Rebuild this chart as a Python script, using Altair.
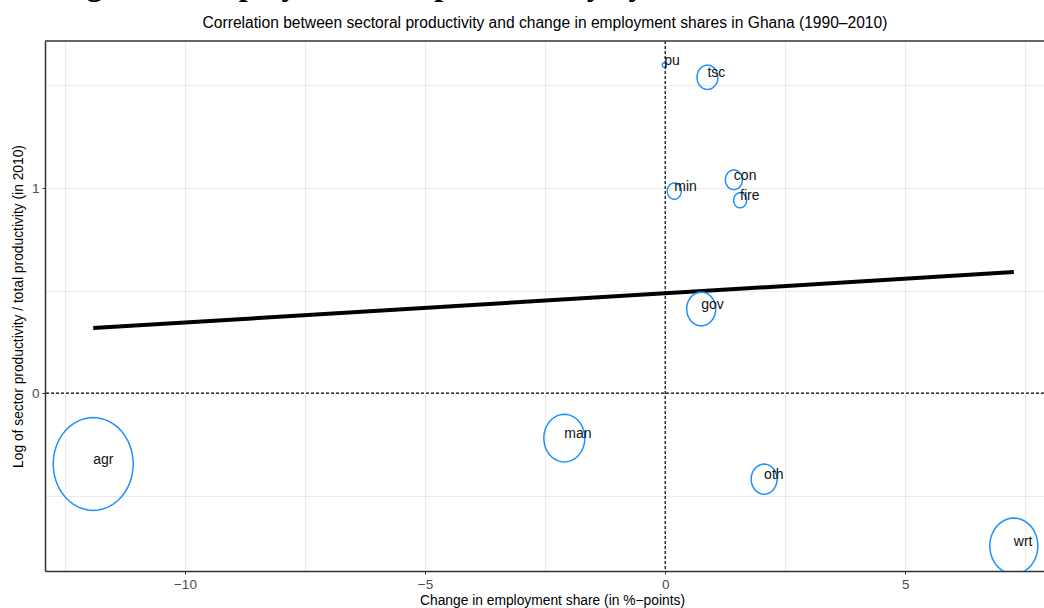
import math
import altair as alt
import pandas as pd

# Sector-level data: change in employment share 1990-2010 (%-points),
# log of relative productivity in 2010 and employment share (bubble size)
sectors = ["agr", "man", "oth", "wrt", "gov", "min", "con", "fire", "tsc", "pu"]
emp_change = [-11.91, -2.10, 2.06, 7.26, 0.75, 0.19, 1.43, 1.56, 0.88, -0.02]
log_rel_prod = [-0.346, -0.22, -0.42, -0.746, 0.41, 0.985, 1.04, 0.94, 1.54, 1.60]
emp_share = [41.0, 10.8, 4.3, 14.8, 5.4, 1.26, 1.85, 1.08, 2.8, 0.1]

# Fitted (weighted) regression line, evaluated at the extreme sectors
fit_x = [-11.91, 7.26]
fit_y = [0.317, 0.59]

# Axis ticks / grid values
x_grid = [-12.5, -10, -7.5, -5, -2.5, 0, 2.5, 5, 7.5]
y_grid = [-0.5, 0, 0.5, 1, 1.5]

heading = "Figure 4: Employment and productivity by sectors in Ghana, 1990\u20132010"
subtitle = ("Correlation between sectoral productivity and change in employment "
            "shares in Ghana (1990\u20132010)")

FONT = "Liberation Sans, Arial, sans-serif"
BLUE = "#1E90FF"
W, H = 999, 530

df = pd.DataFrame({"sector": sectors, "d_emp": emp_change,
                   "lprod": log_rel_prod, "share": emp_share})
fit = pd.DataFrame({"d_emp": fit_x, "lprod": fit_y})

# slightly tall ellipse outline used as the bubble marker
pts = []
for i in range(48):
    a = 2 * math.pi * i / 48
    pts.append(f"{math.cos(a):.4f},{1.16 * math.sin(a):.4f}")
ellipse = "M" + "L".join(pts) + "Z"

x_scale = alt.Scale(domain=[-12.914, 7.888], nice=False, zero=False)
y_scale = alt.Scale(domain=[-0.868, 1.717], nice=False, zero=False)

x_axis = alt.Axis(
    values=x_grid,
    labelExpr="datum.value % 5 === 0 ? datum.label : ''",
    tickOpacity={"condition": {"test": "datum.value % 5 !== 0", "value": 0}, "value": 1},
    title="Change in employment share (in %\u2212points)",
    titleX=507, titleY=29, titleBaseline="middle", titleAnchor="middle",
    labelFlush=False, labelOverlap=False,
)
y_axis = alt.Axis(
    values=y_grid,
    labelExpr="datum.value % 1 === 0 ? format(datum.value, 'd') : ''",
    tickOpacity={"condition": {"test": "datum.value % 1 !== 0", "value": 0}, "value": 1},
    title="Log of sector productivity / total productivity (in 2010)",
    titleX=-27, titleY=265, titleBaseline="middle", titleAnchor="middle",
    labelOverlap=False,
)

base = alt.Chart(df)

bubbles = base.mark_point(
    shape=ellipse, filled=False, stroke=BLUE, strokeWidth=1.5, opacity=1, clip=True
).encode(
    x=alt.X("d_emp:Q", scale=x_scale, axis=x_axis),
    y=alt.Y("lprod:Q", scale=y_scale, axis=y_axis),
    size=alt.Size("share:Q", scale=alt.Scale(domain=[0, 41], range=[0, 6400], zero=True),
                  legend=None),
)

labels = base.mark_text(
    align="left", baseline="middle", dy=-4, font=FONT, fontSize=14, color="#111111"
).encode(x="d_emp:Q", y="lprod:Q", text="sector:N")

fit_line = alt.Chart(fit).mark_line(color="black", strokeWidth=4, strokeCap="butt").encode(
    x="d_emp:Q", y="lprod:Q"
)

zero_ref = pd.DataFrame({"v": [0]})
vline = alt.Chart(zero_ref).mark_rule(color="black", strokeWidth=1.2, strokeDash=[3, 2]).encode(
    x="v:Q"
)
hline = alt.Chart(zero_ref).mark_rule(color="black", strokeWidth=1.2, strokeDash=[3, 2]).encode(
    y="v:Q"
)

# top border of the panel
top_border = alt.Chart(zero_ref).mark_rule(color="#333333", strokeWidth=1.5).encode(
    x=alt.value(0), x2=alt.value(W), y=alt.value(0)
)

sub = alt.Chart(pd.DataFrame({"t": [subtitle]})).mark_text(
    font=FONT, fontSize=15.6, color="black", align="center", baseline="alphabetic"
).encode(text="t:N", x=alt.value(500), y=alt.value(-13))

head = alt.Chart(pd.DataFrame({"t": [heading]})).mark_text(
    font="Liberation Serif, Times New Roman, serif", fontSize=32, fontWeight="bold",
    color="black", align="left", baseline="alphabetic"
).encode(text="t:N", x=alt.value(13), y=alt.value(-46))

chart = alt.layer(
    vline, hline, fit_line, bubbles, labels, top_border, sub, head
).properties(
    width=W, height=H,
    autosize=alt.AutoSizeParams(type="none"),
    padding={"left": 45, "top": 41, "right": 0, "bottom": 37},
).configure(
    background="white"
).configure_view(
    stroke=None
).configure_axis(
    grid=True, gridColor="#EBEBEB", gridWidth=1.1,
    domainColor="#333333", domainWidth=1.5,
    tickColor="#333333", tickSize=3, tickWidth=1,
    labelFont=FONT, labelFontSize=13.5, labelColor="#4D4D4D", labelPadding=3,
    titleFont=FONT, titleFontSize=13.8, titleFontWeight="normal", titleColor="black",
)

chart.save("out.html", embed_options={"renderer": "svg", "actions": False})
